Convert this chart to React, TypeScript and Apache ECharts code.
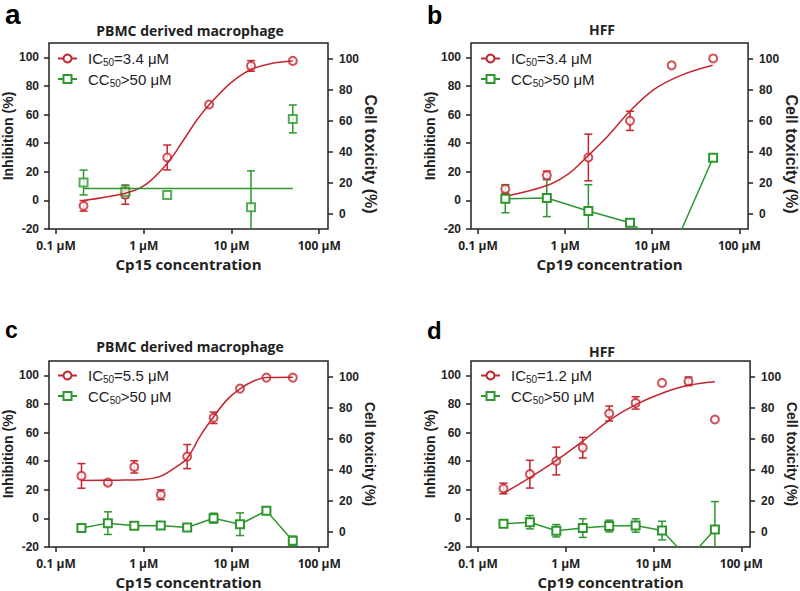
import React, { useEffect, useRef } from 'react';
import * as echarts from 'echarts';

const RED = '#c4262e';
const GREEN = '#2e962e';
const INK = '#222222';

// ---------- data (concentration in μM, values in %) ----------
// Panel a – Cp15, PBMC derived macrophage
const concA = [0.206, 0.617, 1.85, 5.56, 16.7, 50];
const inhibA = [-3.8, 4, 30, 67, 94, 97.5];
const inhibErrA = [3.7, 6.7, 8.7, 0, 3.7, 0];
const toxConcA = [0.206, 0.617, 1.85, 16.7, 50];
const toxA = [20, 14, 12, 4, 61];
const toxErrA = [8, 4, 0, 23.5, 9];
const fitConcA = [0.206, 0.617, 1.05, 1.86, 2.76, 4.07, 5.6, 9.75, 16.7, 30, 50];
const fitInhibA = [0, 5, 11, 26, 41, 56.5, 67, 82, 91.5, 96, 97.5];
const fitToxConcA = [0.206, 50];
const fitToxA = [16.1, 16.1];

// Panel b – Cp19, HFF
const concB = [0.206, 0.617, 1.85, 5.56, 16.7, 50];
const inhibB = [8, 17.5, 30, 55.6, 94.4, 99.2];
const inhibErrB = [3, 3, 16.3, 6.7, 0, 0];
const toxB = [9.5, 10, 1.6, -6, -25, 36];
const toxErrB = [9, 12, 17, 2, 0, 2];
const fitConcB = [0.206, 0.62, 1.09, 1.84, 3.12, 5.6, 10.6, 21.4, 49.4];
const fitInhibB = [2.8, 10.4, 18.5, 31.3, 45.2, 62.6, 77.7, 87.4, 94.4];

// Panel c – Cp15, PBMC derived macrophage
const concC = [0.195, 0.39, 0.78, 1.5625, 3.125, 6.25, 12.5, 25, 50];
const inhibC = [29.7, 25, 36, 16.5, 43.2, 70.3, 90.7, 98.4, 98.4];
const inhibErrC = [8.6, 1.5, 4.3, 3.4, 8.4, 4, 0, 0, 0];
const toxC = [2.2, 5.4, 3.7, 3.9, 2.6, 8.6, 4.7, 13.4, -6];
const toxErrC = [2.5, 7.3, 2, 1.5, 0, 3.2, 7.3, 1, 3];
const fitConcC = [0.195, 0.5, 1.0, 1.56, 2.41, 3.125, 4.45, 6.25, 8.93, 12.5, 17.9, 25, 50];
const fitInhibC = [26.5, 26.7, 27.2, 29.5, 36.5, 42, 58, 71, 83, 90.5, 96, 98.4, 98.7];

// Panel d – Cp19, HFF
const concD = [0.195, 0.39, 0.78, 1.5625, 3.125, 6.25, 12.5, 25, 50];
const inhibD = [20.9, 30.9, 40.1, 49.4, 73.3, 80.7, 94.7, 95.8, 69.1];
const inhibErrD = [3.7, 9.7, 9.7, 7.2, 5.2, 4.3, 0, 3, 0];
const toxD = [5, 6, 0.5, 2.2, 3.5, 3.9, 0.6, -17.6, 1.3];
const toxErrD = [1.5, 4.3, 4, 6, 3.8, 4.3, 6, 0, 18];
const fitConcD = [0.195, 0.39, 0.78, 1.5625, 3.125, 6.25, 12.5, 25, 50];
const fitInhibD = [17.5, 28.5, 40.5, 54, 68.5, 79.5, 87.5, 93, 95.5];

// ---------- labels ----------
const panelLetters = ['a', 'b', 'c', 'd'];
const panelTitles = ['PBMC derived macrophage', 'HFF', 'PBMC derived macrophage', 'HFF'];
const compoundNames = ['Cp15 concentration', 'Cp19 concentration', 'Cp15 concentration', 'Cp19 concentration'];
const icLabels = ['IC50=3.4 μM', 'IC50=3.4 μM', 'IC50=5.5 μM', 'IC50=1.2 μM'];
const ccLabel = 'CC50>50 μM';
const xTickValues = [0.1, 1, 10, 100];
const xTickLabels = ['0.1 μM', '1 μM', '10 μM', '100 μM'];
const leftTicks = [-20, 0, 20, 40, 60, 80, 100];
const rightTicks = [0, 20, 40, 60, 80, 100];
const leftAxisName = 'Inhibition (%)';
const rightAxisName = 'Cell toxicity (%)';

const zip = (xs: number[], ys: number[]) => xs.map((x, i) => [x, ys[i]]);
const zip3 = (xs: number[], ys: number[], es: number[]) =>
  xs.map((x, i) => [x, ys[i], es[i]]).filter((d) => d[2] > 0);

function errorSeries(panel: number, yIdx: number, data: number[][], color: string) {
  return {
    type: 'custom',
    xAxisIndex: panel,
    yAxisIndex: yIdx,
    silent: true,
    data,
    renderItem: (params: any, api: any) => {
      const x = api.value(0);
      const y = api.value(1);
      const e = api.value(2);
      const top = api.coord([x, y + e]);
      const bot = api.coord([x, y - e]);
      const cs = params.coordSys;
      const yMin = cs.y;
      const yMax = cs.y + cs.height;
      const t = Math.max(top[1], yMin);
      const b = Math.min(bot[1], yMax);
      if (t >= b) return { type: 'group', children: [] };
      const st = { stroke: color, lineWidth: 1.5 };
      const children: any[] = [
        { type: 'line', shape: { x1: top[0], y1: t, x2: top[0], y2: b }, style: st },
      ];
      if (top[1] >= yMin)
        children.push({ type: 'line', shape: { x1: top[0] - 4, y1: top[1], x2: top[0] + 4, y2: top[1] }, style: st });
      if (bot[1] <= yMax)
        children.push({ type: 'line', shape: { x1: bot[0] - 4, y1: bot[1], x2: bot[0] + 4, y2: bot[1] }, style: st });
      return { type: 'group', children };
    },
  };
}

const panels = [
  {
    conc: concA, inhib: inhibA, inhibErr: inhibErrA,
    toxConc: toxConcA, tox: toxA, toxErr: toxErrA,
    fitConc: fitConcA, fitInhib: fitInhibA,
    toxLine: zip(fitToxConcA, fitToxA), toxConnected: false,
  },
  {
    conc: concB, inhib: inhibB, inhibErr: inhibErrB,
    toxConc: concB, tox: toxB, toxErr: toxErrB,
    fitConc: fitConcB, fitInhib: fitInhibB,
    toxLine: zip(concB, toxB), toxConnected: true,
  },
  {
    conc: concC, inhib: inhibC, inhibErr: inhibErrC,
    toxConc: concC, tox: toxC, toxErr: toxErrC,
    fitConc: fitConcC, fitInhib: fitInhibC,
    toxLine: zip(concC, toxC), toxConnected: true,
  },
  {
    conc: concD, inhib: inhibD, inhibErr: inhibErrD,
    toxConc: concD, tox: toxD, toxErr: toxErrD,
    fitConc: fitConcD, fitInhib: fitInhibD,
    toxLine: zip(concD, toxD), toxConnected: true,
  },
];

const gridRects = [
  { left: 49, top: 43, width: 279, height: 186 },
  { left: 471, top: 43, width: 280, height: 186 },
  { left: 49, top: 361, width: 279, height: 186 },
  { left: 471, top: 361, width: 280, height: 186 },
];

const legendPos = [
  { left: 57, top: 51 },
  { left: 480, top: 51 },
  { left: 57, top: 368 },
  { left: 480, top: 368 },
];

const letterPos = [
  { x: 5, y: 14, size: 28 },
  { x: 427, y: 15, size: 25 },
  { x: 5, y: 330, size: 23 },
  { x: 427, y: 330, size: 24 },
];
const titlePos = [
  { x: 190, y: 30 },
  { x: 602, y: 29 },
  { x: 190, y: 346 },
  { x: 602, y: 351 },
];

function buildOption() {
  const tickStyle = { color: INK, width: 1.5 };
  const xAxis: any[] = [];
  const yAxis: any[] = [];
  const series: any[] = [];
  const legend: any[] = [];
  const graphic: any[] = [];

  panels.forEach((p, i) => {
    xAxis.push({
      type: 'log',
      logBase: 10,
      gridIndex: i,
      min: 0.0832,
      max: 125.9,
      axisLine: { show: false, onZero: false },
      splitLine: { show: false },
      axisTick: { show: true, length: 5, lineStyle: tickStyle, customValues: xTickValues },
      axisLabel: {
        customValues: xTickValues,
        margin: 10,
        formatter: (v: number) => {
          let best = 0;
          xTickValues.forEach((t, k) => {
            if (Math.abs(Math.log10(v) - Math.log10(t)) < Math.abs(Math.log10(v) - Math.log10(xTickValues[best]))) best = k;
          });
          return xTickLabels[best];
        },
        fontFamily: 'Open Sans',
        fontWeight: 'bold',
        fontSize: 12,
        color: INK,
      },
      name: compoundNames[i],
      nameLocation: 'middle',
      nameGap: 27,
      nameTextStyle: { fontFamily: 'Open Sans', fontWeight: 'bold', fontSize: 15, color: INK },
    });
    const big = i < 2;
    yAxis.push({
      type: 'value',
      gridIndex: i,
      position: 'left',
      min: -20,
      max: 110,
      axisLine: { show: false, onZero: false },
      splitLine: { show: false },
      axisTick: { show: true, length: 5, lineStyle: tickStyle, customValues: leftTicks },
      axisLabel: {
        customValues: leftTicks,
        margin: 10,
        fontFamily: 'Liberation Sans',
        fontWeight: 'bold',
        fontSize: 12,
        color: INK,
      },
      name: leftAxisName,
      nameLocation: 'middle',
      nameGap: 31,
      nameTextStyle: { fontFamily: 'Liberation Sans', fontWeight: 'bold', fontSize: 14, color: INK },
    });
    yAxis.push({
      type: 'value',
      gridIndex: i,
      position: 'right',
      min: -10,
      max: 110,
      axisLine: { show: false, onZero: false },
      splitLine: { show: false },
      axisTick: { show: true, length: 5, lineStyle: tickStyle, customValues: rightTicks },
      axisLabel: {
        customValues: rightTicks,
        margin: 11,
        fontFamily: 'Liberation Sans',
        fontWeight: 'bold',
        fontSize: 12,
        color: INK,
      },
      name: rightAxisName,
      nameLocation: 'middle',
      nameRotate: -90,
      nameGap: big ? 33 : 32,
      nameTextStyle: {
        fontFamily: 'Liberation Sans',
        fontWeight: 'bold',
        fontSize: big ? 16 : 14,
        color: INK,
        padding: big ? [0, 0, 0, 36] : 0,
      },
    });

    const yL = 2 * i;
    const yR = 2 * i + 1;
    series.push(errorSeries(i, yL, zip3(p.conc, p.inhib, p.inhibErr), RED));
    series.push(errorSeries(i, yR, zip3(p.toxConc, p.tox, p.toxErr), GREEN));
    series.push({
      type: 'line',
      name: icLabels[i],
      xAxisIndex: i,
      yAxisIndex: yL,
      data: zip(p.fitConc, p.fitInhib),
      smooth: 0.35,
      symbol: 'emptyCircle',
      symbolSize: 8,
      showSymbol: false,
      lineStyle: { color: RED, width: 1.5 },
      itemStyle: { color: RED },
      silent: true,
    });
    series.push({
      type: 'line',
      name: ccLabel,
      xAxisIndex: i,
      yAxisIndex: yR,
      data: p.toxLine,
      symbol: 'emptyRect',
      symbolSize: 8,
      showSymbol: p.toxConnected,
      lineStyle: { color: GREEN, width: 1.5 },
      itemStyle: { color: GREEN, borderWidth: 1.5 },
      silent: true,
    });
    series.push({
      type: 'scatter',
      name: 'inhibition points ' + panelLetters[i],
      xAxisIndex: i,
      yAxisIndex: yL,
      data: zip(p.conc, p.inhib),
      symbol: 'emptyCircle',
      symbolSize: 8,
      itemStyle: { color: RED, borderWidth: 1.5 },
      silent: true,
    });
    if (!p.toxConnected) {
      series.push({
        type: 'scatter',
        name: 'toxicity points ' + panelLetters[i],
        xAxisIndex: i,
        yAxisIndex: yR,
        data: zip(p.toxConc, p.tox),
        symbol: 'emptyRect',
        symbolSize: 8,
        itemStyle: { color: GREEN, borderWidth: 1.5 },
        silent: true,
      });
    }

    legend.push({
      ...legendPos[i],
      padding: 0,
      orient: 'vertical',
      itemWidth: 19,
      itemHeight: 10,
      itemGap: 4,
      selectedMode: false,
      data: [icLabels[i], ccLabel],
      formatter: (name: string) => `{p|}{t|${name.slice(0, 2)}}{s|50}{t|${name.slice(4)}}`,
      textStyle: {
        rich: {
          p: { width: 6 },
          t: { fontFamily: 'Liberation Sans', fontSize: 15, color: INK, lineHeight: 18 },
          s: { fontFamily: 'Liberation Sans', fontSize: 10, color: INK, lineHeight: 18, verticalAlign: 'bottom' },
        },
      },
    });

    graphic.push({
      type: 'text',
      x: letterPos[i].x,
      y: letterPos[i].y,
      style: {
        text: panelLetters[i],
        fontFamily: 'Liberation Sans',
        fontWeight: 'bold',
        fontSize: letterPos[i].size,
        fill: '#000',
        align: 'left',
        verticalAlign: 'middle',
        textAlign: 'left',
        textVerticalAlign: 'middle',
      },
    });
    graphic.push({
      type: 'text',
      x: titlePos[i].x,
      y: titlePos[i].y,
      style: {
        text: panelTitles[i],
        fontFamily: 'Open Sans',
        fontWeight: 'bold',
        fontSize: 14,
        fill: INK,
        align: 'center',
        verticalAlign: 'middle',
        textAlign: 'center',
        textVerticalAlign: 'middle',
      },
    });
  });

  return {
    animation: false,
    backgroundColor: '#ffffff',
    grid: gridRects.map((g) => ({ ...g, show: true, borderColor: INK, borderWidth: 1.5, backgroundColor: 'transparent' })),
    xAxis,
    yAxis,
    legend,
    series,
    graphic,
  };
}

export default function App() {
  const ref = useRef<HTMLDivElement>(null);
  useEffect(() => {
    if (!ref.current) return;
    const chart = echarts.init(ref.current, undefined, { renderer: 'svg' });
    chart.setOption(buildOption() as any);
    return () => chart.dispose();
  }, []);
  return (
    <div
      ref={ref}
      style={{ position: 'fixed', left: 0, top: 0, width: 800, height: 591, background: '#fff' }}
    />
  );
}
